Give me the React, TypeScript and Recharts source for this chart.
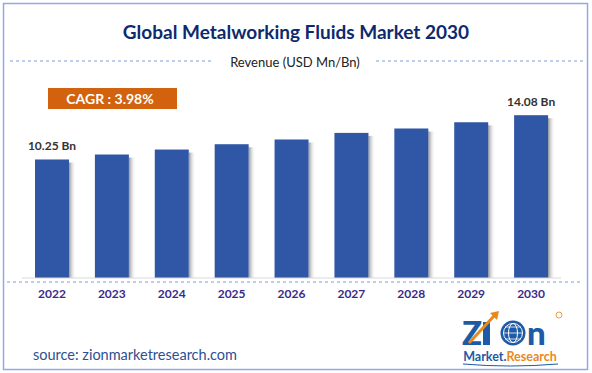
import { BarChart, Bar, XAxis, YAxis, LabelList } from "recharts";

const years = ["2022", "2023", "2024", "2025", "2026", "2027", "2028", "2029", "2030"];
const revenue = [10.25, 10.68, 11.11, 11.57, 11.98, 12.55, 12.93, 13.47, 14.08];
const valueLabels = ["10.25 Bn", "", "", "", "", "", "", "", "14.08 Bn"];

const data = years.map((year, i) => ({ year, revenue: revenue[i], label: valueLabels[i] }));

const FONT = "Lato, 'Open Sans', sans-serif";
const BAR_BLUE = "#3056A6";

// bar with a soft grey shadow on its right side
const ShadowBar = (props: any) => {
  const { x, y, width, height } = props;
  if (!height || height <= 0) return null;
  return (
    <g>
      <rect x={x + width} y={y + 3} width={7} height={height - 3} fill="url(#barShadow)" />
      <rect x={x} y={y} width={width} height={height} fill={BAR_BLUE} />
    </g>
  );
};

// label drawn on one line above the bar (no wrapping)
const TopLabel = (props: any) => {
  const { x, y, width, value } = props;
  if (!value) return null;
  return (
    <text
      x={x + width / 2}
      y={y - 9}
      textAnchor="middle"
      fill="#333"
      fontSize={12}
      fontWeight={700}
      fontFamily={FONT}
    >
      {value}
    </text>
  );
};

const Logo = () => (
  <g>
    <text x={462} y={345} fontFamily={FONT} fontWeight={900} fontSize={33} fill="#1D5AA7">Z</text>
    <rect x={483} y={322} width={7} height={23} fill="#1D5AA7" />
    <path d="M469 343 L494 316" stroke="#E8891C" strokeWidth={3} />
    <path d="M490 313 L499 311 L497 320 Z" fill="#E8891C" />
    <circle cx={513} cy={333} r={12.5} fill="#1D5AA7" />
    <circle cx={513} cy={333} r={9.5} fill="none" stroke="#fff" strokeWidth={1} />
    <ellipse cx={513} cy={333} rx={4.5} ry={9.5} fill="none" stroke="#fff" strokeWidth={1} />
    <path d="M503.5 333 H522.5 M505 327 H521 M505 339 H521" stroke="#fff" strokeWidth={0.8} />
    <text x={527} y={345} fontFamily={FONT} fontWeight={900} fontSize={33} fill="#1D5AA7">n</text>
    <circle cx={559} cy={315} r={3} fill="none" stroke="#E8891C" strokeWidth={0.8} />
    <text x={510} y={361} textAnchor="middle" fontFamily={FONT} fontWeight={700} fontSize={12.5}>
      <tspan fill="#1D5AA7">Market.</tspan>
      <tspan fill="#E8891C">Research</tspan>
    </text>
    <path d="M463 364 Q510 368 558 364" stroke="#1D5AA7" strokeWidth={1} fill="none" />
  </g>
);

export default function App() {
  return (
    <div
      style={{
        position: "absolute",
        left: 0,
        top: 0,
        width: 592,
        height: 373,
        background: "#fff",
        fontFamily: FONT,
      }}
    >
      <BarChart
        width={592}
        height={373}
        data={data}
        margin={{ top: 93, right: 31, bottom: 65, left: 22 }}
        barSize={34}
      >
        <defs>
          <linearGradient id="barShadow" x1="0" y1="0" x2="1" y2="0">
            <stop offset="0%" stopColor="#8a8a8a" stopOpacity={0.9} />
            <stop offset="100%" stopColor="#ffffff" stopOpacity={0} />
          </linearGradient>
        </defs>
        <XAxis
          dataKey="year"
          height={30}
          axisLine={{ stroke: "#d9d9d9", strokeWidth: 1 }}
          tickLine={false}
          tickMargin={5}
          tick={{ fill: "#3B2A8A", fontSize: 12, fontWeight: 700, fontFamily: FONT }}
        />
        <YAxis hide domain={[0, 16]} />
        <Bar dataKey="revenue" shape={ShadowBar} isAnimationActive={false}>
          <LabelList dataKey="label" content={TopLabel} />
        </Bar>
      </BarChart>

      <svg
        width={592}
        height={373}
        style={{ position: "absolute", left: 0, top: 0, pointerEvents: "none" }}
      >
        <rect x={3.5} y={3.5} width={584} height={366} fill="none" stroke="#93A8E6" strokeWidth={1.5} />
        <text
          x={296}
          y={39}
          textAnchor="middle"
          fontFamily={FONT}
          fontWeight={700}
          fontSize={19}
          fill="#0E2A6E"
        >
          Global Metalworking Fluids Market 2030
        </text>
        <line x1={10} y1={61} x2={213} y2={61} stroke="#7B9DDA" strokeDasharray="3 3" />
        <line x1={376} y1={61} x2={584} y2={61} stroke="#7B9DDA" strokeDasharray="3 3" />
        <text x={295} y={67} textAnchor="middle" fontFamily={FONT} fontSize={13} fill="#222">
          Revenue (USD Mn/Bn)
        </text>
        <rect x={48} y={88} width={129} height={21} fill="#D2620E" />
        <text x={110} y={104} textAnchor="middle" fontFamily={FONT} fontWeight={700} fontSize={14} fill="#fff">
          CAGR : 3.98%
        </text>
        <line x1={7} y1={282} x2={580} y2={282} stroke="#7B9DDA" strokeDasharray="3 3" />
        <text x={33} y={360} fontFamily={FONT} fontSize={14.5} fill="#2F4F91">
          source: zionmarketresearch.com
        </text>
        <Logo />
      </svg>
    </div>
  );
}
